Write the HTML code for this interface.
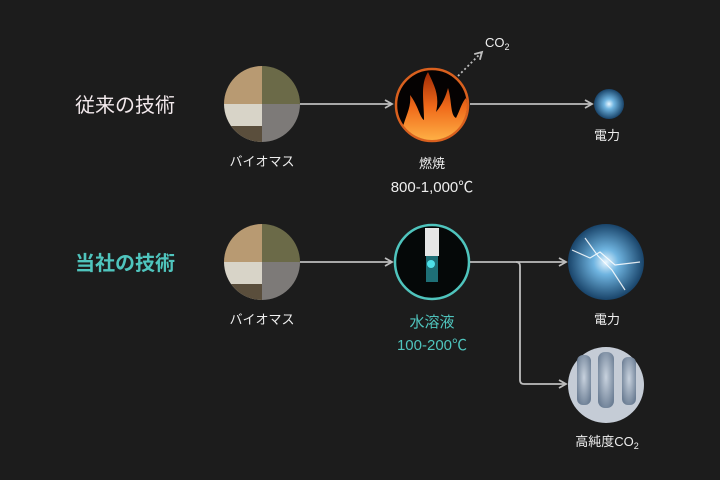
<!DOCTYPE html>
<html><head><meta charset="utf-8"><style>
html,body{margin:0;padding:0;background:#1c1c1c;}
svg{display:block;}
text{font-family:"Liberation Sans","Noto Sans CJK JP",sans-serif;}
</style></head><body>
<svg width="720" height="480" viewBox="0 0 720 480" xmlns="http://www.w3.org/2000/svg">
<defs>
<marker id="ah" markerWidth="10" markerHeight="10" refX="8" refY="5" orient="auto" markerUnits="userSpaceOnUse">
<path d="M1,1 L8,5 L1,9" fill="none" stroke="#bdbdbd" stroke-width="1.8"/>
</marker>
<clipPath id="c1"><circle cx="262" cy="104" r="38"/></clipPath>
<clipPath id="c2"><circle cx="262" cy="262" r="38"/></clipPath>
<clipPath id="cf"><circle cx="432" cy="105" r="35"/></clipPath>
<linearGradient id="flm" x1="0" y1="1" x2="0" y2="0">
<stop offset="0" stop-color="#ffb347"/><stop offset="0.5" stop-color="#f06a1a"/><stop offset="1" stop-color="#a02a05"/>
</linearGradient>
<radialGradient id="elec" cx="50%" cy="50%" r="55%">
<stop offset="0" stop-color="#e8f6ff"/><stop offset="0.3" stop-color="#6fb4e0"/><stop offset="1" stop-color="#0c3358"/>
</radialGradient>
<radialGradient id="tank" cx="50%" cy="45%" r="60%">
<stop offset="0" stop-color="#c8d2de"/><stop offset="1" stop-color="#6d7f95"/>
</radialGradient>
</defs>

<text x="75" y="112" font-size="20" fill="#f2e9ec">従来の技術</text>
<text x="75" y="270" font-size="20" fill="#4fc4bd" font-weight="bold">当社の技術</text>

<g clip-path="url(#c1)">
<rect x="224" y="66" width="38" height="38" fill="#b89a72"/>
<rect x="262" y="66" width="38" height="38" fill="#6b6a48"/>
<rect x="224" y="104" width="38" height="38" fill="#d8d4c8"/>
<rect x="224" y="126" width="38" height="16" fill="#5a4e3c"/>
<rect x="262" y="104" width="38" height="38" fill="#7d7a78"/>
</g>
<g clip-path="url(#c2)">
<rect x="224" y="224" width="38" height="38" fill="#b89a72"/>
<rect x="262" y="224" width="38" height="38" fill="#6b6a48"/>
<rect x="224" y="262" width="38" height="38" fill="#d8d4c8"/>
<rect x="224" y="284" width="38" height="16" fill="#5a4e3c"/>
<rect x="262" y="262" width="38" height="38" fill="#7d7a78"/>
</g>

<circle cx="432" cy="105" r="36" fill="#050202" stroke="#d9601e" stroke-width="2.5"/>
<g clip-path="url(#cf)" fill="url(#flm)">
<path d="M400,142 C402,120 412,110 410,95 C418,105 420,118 424,120 C424,100 420,85 428,72 C434,85 440,95 436,112 C442,105 446,96 448,88 C452,100 450,115 456,118 C460,110 462,102 466,98 C470,115 468,130 466,142 Z"/>
</g>
<circle cx="609" cy="104" r="15" fill="url(#elec)"/>

<circle cx="432" cy="262" r="37" fill="#050808" stroke="#4fc4bd" stroke-width="2.5"/>
<rect x="425" y="228" width="14" height="28" fill="#e6e6e6"/>
<rect x="426" y="256" width="12" height="26" fill="#1e6f76"/>
<circle cx="431" cy="264" r="4" fill="#4ee0e8"/>
<circle cx="606" cy="262" r="38" fill="url(#elec)"/>
<g stroke="#ffffff" stroke-width="1.2" fill="none" opacity="0.85">
<path d="M572,250 L590,258 L600,252 L615,265 L640,262"/>
<path d="M585,238 L598,256 L612,270 L625,290"/>
</g>
<circle cx="606" cy="385" r="38" fill="#c5ccd6"/>
<rect x="577" y="355" width="14" height="50" rx="6" fill="url(#tank)"/>
<rect x="598" y="352" width="16" height="56" rx="7" fill="url(#tank)"/>
<rect x="622" y="357" width="14" height="48" rx="6" fill="url(#tank)"/>

<g stroke="#bdbdbd" stroke-width="1.8" fill="none">
<line x1="300" y1="104" x2="392" y2="104" marker-end="url(#ah)"/>
<line x1="470" y1="104" x2="592" y2="104" marker-end="url(#ah)"/>
<line x1="458" y1="76" x2="482" y2="52" stroke-dasharray="2,2.5" marker-end="url(#ah)"/>
<line x1="300" y1="262" x2="392" y2="262" marker-end="url(#ah)"/>
<line x1="470" y1="262" x2="566" y2="262" marker-end="url(#ah)"/>
<path d="M516,262 Q520,262 520,266 L520,380 Q520,384 524,384 L566,384" marker-end="url(#ah)"/>
</g>

<text x="485" y="47" font-size="13" fill="#eeeeee">CO<tspan font-size="9" dy="3">2</tspan></text>

<g font-size="13" fill="#eeeeee" text-anchor="middle">
<text x="262" y="166">バイオマス</text>
<text x="432" y="168">燃焼</text>
<text x="432" y="192" font-size="15">800-1,000℃</text>
<text x="607" y="140">電力</text>
<text x="262" y="324">バイオマス</text>
<text x="607" y="324">電力</text>
<text x="607" y="446">高純度CO<tspan font-size="9" dy="3">2</tspan></text>
</g>
<g fill="#4fc4bd" text-anchor="middle">
<text x="432" y="327" font-size="15">水溶液</text>
<text x="432" y="350" font-size="15">100-200℃</text>
</g>
</svg>
</body></html>
